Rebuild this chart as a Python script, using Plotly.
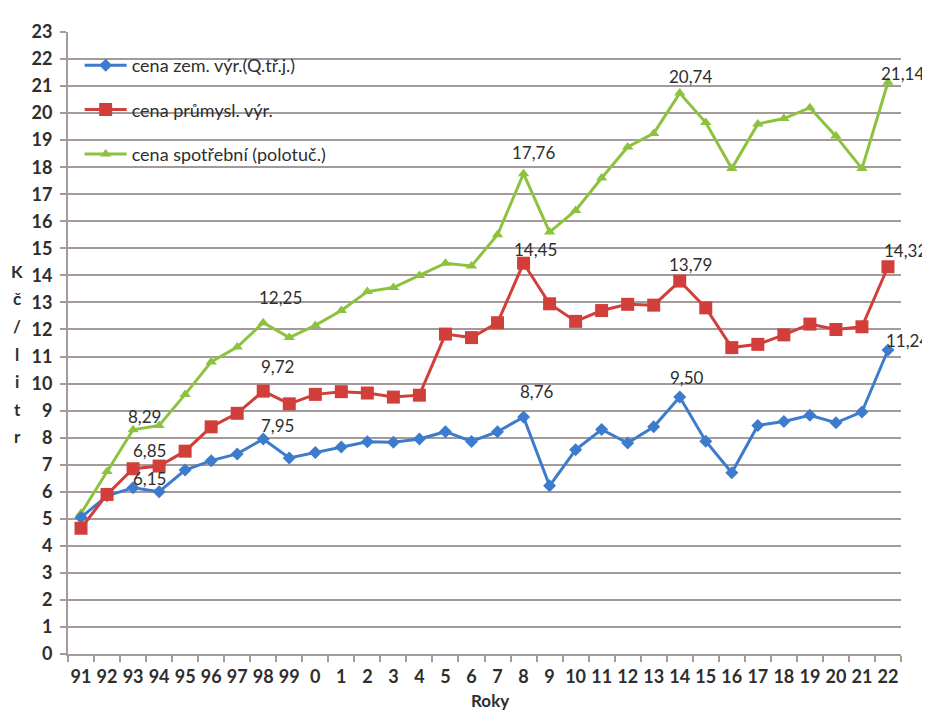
import plotly.graph_objects as go

years = ["91", "92", "93", "94", "95", "96", "97", "98", "99",
         "0", "1", "2", "3", "4", "5", "6", "7", "8", "9", "10", "11",
         "12", "13", "14", "15", "16", "17", "18", "19", "20", "21", "22"]

cena_zem = [5.05, 5.85, 6.15, 6.0, 6.8, 7.15, 7.4, 7.95, 7.25,
            7.45, 7.65, 7.85, 7.83, 7.95, 8.22, 7.86, 8.22, 8.76, 6.22, 7.55, 8.3,
            7.8, 8.4, 9.50, 7.87, 6.7, 8.45, 8.6, 8.83, 8.55, 8.95, 11.24]

cena_prum = [4.65, 5.9, 6.85, 6.95, 7.5, 8.4, 8.9, 9.72, 9.25,
             9.6, 9.7, 9.65, 9.5, 9.57, 11.83, 11.7, 12.25, 14.45, 12.95, 12.3, 12.7,
             12.93, 12.9, 13.79, 12.8, 11.33, 11.45, 11.8, 12.2, 12.0, 12.1, 14.32]

cena_spot = [5.2, 6.75, 8.29, 8.45, 9.6, 10.8, 11.35, 12.25, 11.7,
             12.15, 12.7, 13.4, 13.55, 14.0, 14.45, 14.35, 15.5, 17.76, 15.6, 16.4, 17.6,
             18.75, 19.25, 20.74, 19.65, 17.95, 19.6, 19.8, 20.2, 19.15, 17.95, 21.14]

series_names = ["cena zem. výr.(Q.tř.j.)", "cena průmysl. výr.", "cena spotřební (polotuč.)"]
labelled_years = ["93", "98", "8", "14", "22"]
y_ticks = list(range(0, 24))
y_title_letters = ["K", "č", "/", "l", "i", "t", "r"]

# label pixel offsets (style): (xshift, yshift) per labelled point
label_offsets = {
    0: [(16, 9), (14, 14), (13, 26), (7, 20), (20, 10)],
    1: [(16, 18), (14, 25), (12, 14), (11, 17), (18, 16)],
    2: [(11, 13), (17, 25), (10, 21), (11, 17), (15, 9)],
}

BLUE = "#3d7bcc"
RED = "#d23f3a"
GREEN = "#8dc23f"
GRID = "#a39b9b"
TXT = "#2e2e2e"
FONT = "Lato, Open Sans, sans-serif"

fig = go.Figure()

styles = [
    dict(color=BLUE, symbol="diamond", size=10),
    dict(color=RED, symbol="square", size=13),
    dict(color=GREEN, symbol="triangle-up", size=10),
]
data = [cena_zem, cena_prum, cena_spot]

# draw order: green, blue, red (red on top)
for i in [2, 0, 1]:
    st = styles[i]
    fig.add_trace(go.Scatter(
        x=years, y=data[i], name=series_names[i],
        mode="lines+markers",
        line=dict(color=st["color"], width=3),
        marker=dict(symbol=st["symbol"], size=st["size"], color=st["color"],
                    line=dict(width=0)),
        legendgroup=f"g{i}", legendrank=i + 1,
    ))

for i, vals in enumerate(data):
    for j, yr in enumerate(labelled_years):
        idx = years.index(yr)
        v = vals[idx]
        xs, ys = label_offsets[i][j]
        fig.add_annotation(
            x=idx, y=v, xref="x", yref="y",
            text=f"{v:.2f}".replace(".", ","),
            showarrow=False, xshift=xs, yshift=ys,
            xanchor="center", yanchor="middle",
            font=dict(family=FONT, size=17, color=TXT),
        )

# vertical stacked y-axis title
for k, ch in enumerate(y_title_letters):
    fig.add_annotation(
        x=-0.061, xref="paper", xanchor="center",
        y=14.15 - k * 1.02, yref="y", yanchor="middle",
        text=f"<b>{ch}</b>", showarrow=False,
        font=dict(family=FONT, size=17, color=TXT),
    )

fig.add_annotation(
    x=0.507, xref="paper", xanchor="center",
    y=-0.074, yref="paper", yanchor="middle",
    text="<b>Roky</b>", showarrow=False,
    font=dict(family=FONT, size=17, color=TXT),
)

fig.update_layout(
    width=922, height=703,
    margin=dict(l=60, r=29, t=14, b=57),
    paper_bgcolor="white", plot_bgcolor="white",
    showlegend=True,
    legend=dict(
        x=0.014, y=0.976, xanchor="left", yanchor="top",
        bgcolor="rgba(0,0,0,0)", borderwidth=0,
        font=dict(family=FONT, size=18, color=TXT),
        tracegroupgap=18, itemwidth=42,
    ),
    xaxis=dict(
        type="category", categoryorder="array", categoryarray=years,
        range=[-0.5, len(years) - 0.5],
        tickson="boundaries", ticks="outside", ticklen=6, tickcolor=GRID, tickwidth=2,
        showgrid=False, showline=True, linecolor=GRID, linewidth=2,
        tickangle=0,
        tickfont=dict(family=FONT, size=18, color=TXT, weight="bold"),
        ticklabelstandoff=5,
        zeroline=False,
    ),
    yaxis=dict(
        range=[0, 23], tickvals=y_ticks,
        ticks="outside", ticklen=6, tickcolor=GRID, tickwidth=2,
        showgrid=True, gridcolor=GRID, gridwidth=2,
        showline=True, linecolor=GRID, linewidth=2,
        zeroline=False,
        tickfont=dict(family=FONT, size=18, color=TXT, weight="bold"),
        ticklabelstandoff=4,
    ),
)

fig.write_html("out.html")
